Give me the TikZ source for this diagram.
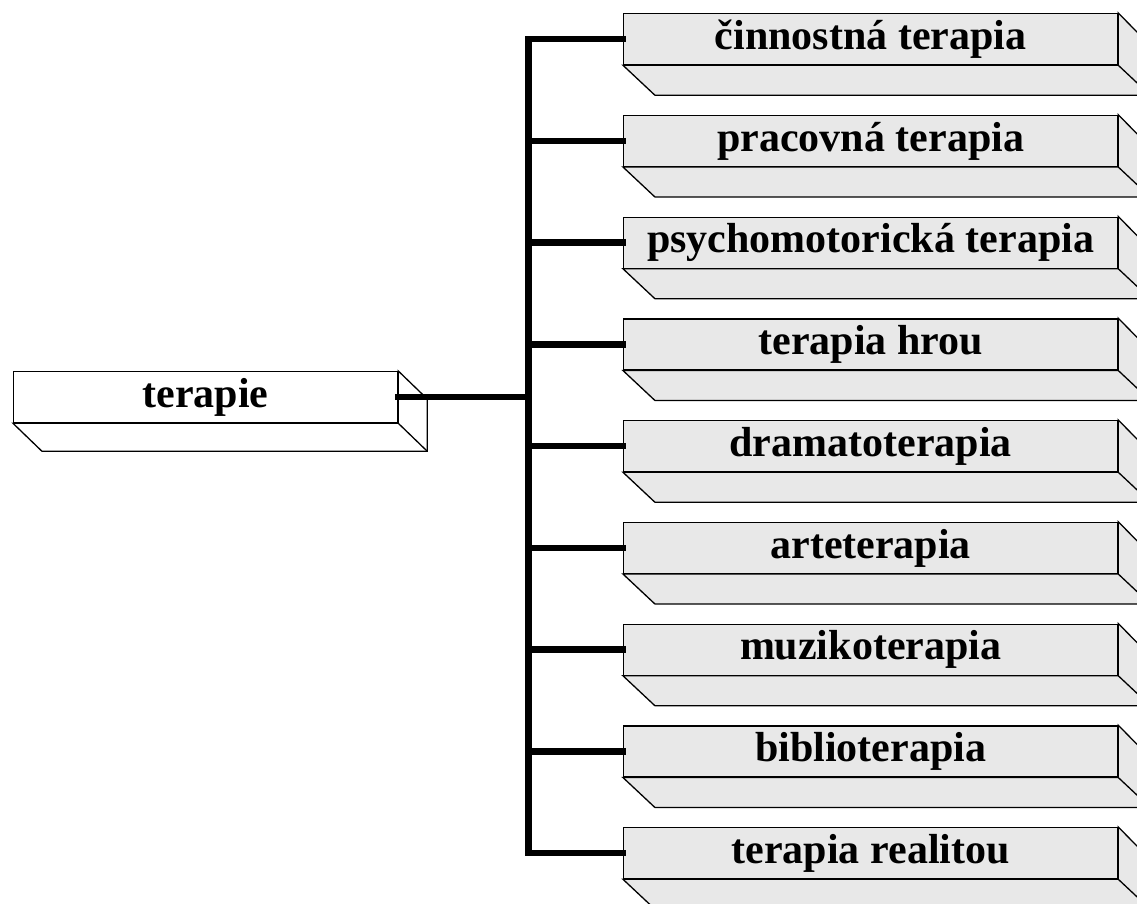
\documentclass[tikz,border=0pt]{standalone}
\usepackage{fontspec}
\setmainfont{Liberation Serif}
\usetikzlibrary{calc}
\begin{document}
\begin{tikzpicture}[x=1pt,y=-1pt,
  boxline/.style={draw=black,line width=1.3pt,line join=miter},
  front/.style={boxline,anchor=north west,inner sep=0pt,minimum height=51pt,
    font=\fontsize{42}{48}\selectfont\bfseries},
  lightbox/.style={front,fill=black!9,minimum width=494pt},
  whitebox/.style={front,fill=white,minimum width=384pt},
  lightdepth/.style={boxline,fill=black!9},
  whitedepth/.style={boxline,fill=white},
  conn/.style={line width=6.5pt,line cap=rect,draw=black}]
\useasboundingbox (0,0) rectangle (1137,904);
\clip (0,0) rectangle (1137,904);
% left box
\node[whitebox] (terapie) at (13,371) {terapie};
\draw[whitedepth] (terapie.south west) -- ++(29,28) -- ($(terapie.south east)+(29,28)$)
  -- ($(terapie.north east)+(29,28)$) -- (terapie.north east) -- (terapie.south east) -- cycle;
\draw[boxline] (terapie.south east) -- ++(29,28);
% right boxes
\foreach \i/\t in {1/činnostná terapia,2/pracovná terapia,3/psychomotorická terapia,
  4/terapia hrou,5/dramatoterapia,6/arteterapia,7/muzikoterapia,8/biblioterapia,9/terapia realitou}{
  \node[lightbox] (b\i) at (623,{13+(\i-1)*101.75}) {\t};
}
\foreach \i in {1,...,9}{
  \draw[lightdepth] (b\i.south west) -- ++(32,30) -- ++(494,0) -- ++(0,-51)
    -- (b\i.north east) -- (b\i.south east) -- cycle;
  \draw[boxline] (b\i.south east) -- ++(32,30);
}
% connectors
\coordinate (j) at ($(terapie.east)+(130,0)$);
\draw[conn] (terapie.east) -- (j);
\draw[conn] (j |- b1.west) -- (j |- b9.west);
\foreach \i in {1,...,9}{
  \draw[conn] (j |- b\i.west) -- (b\i.west);
}
\end{tikzpicture}
\end{document}
